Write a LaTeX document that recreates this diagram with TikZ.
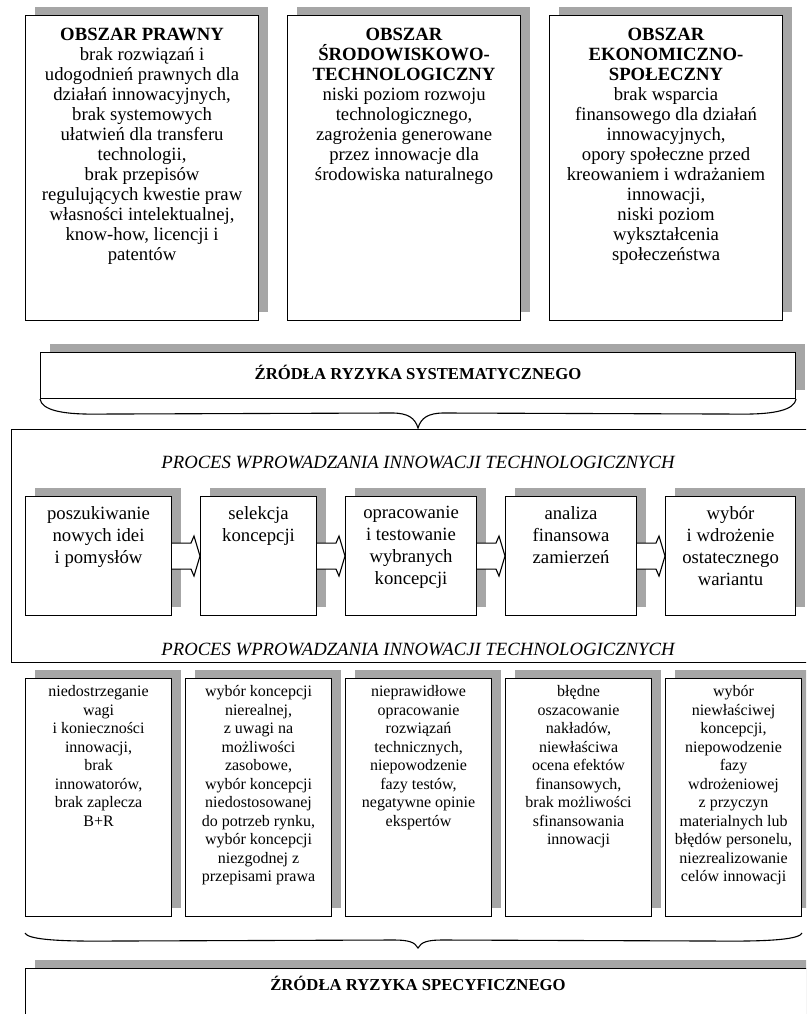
\documentclass[tikz,border=0pt]{standalone}
\usepackage{fontspec}
\setmainfont{Liberation Serif}
\usetikzlibrary{calc,shadows}

\tikzset{
  shbox/.style={draw=black, line width=1.1pt, fill=white, inner sep=0pt, anchor=north west,
    drop shadow={shadow xshift=9pt, shadow yshift=9pt, opacity=1, fill=black!35}},
  areatxt/.style={anchor=north, inner sep=0pt, align=center,
    font=\fontsize{18.7}{20}\selectfont, execute at begin node=\strut},
  steptxt/.style={areatxt, font=\fontsize{18.7}{22}\selectfont},
  risktxt/.style={areatxt, font=\fontsize{16}{18.5}\selectfont},
  headtxt/.style={anchor=base, inner sep=0pt, font=\bfseries\fontsize{16.7}{20}\selectfont},
  proctxt/.style={anchor=base, inner sep=0pt, font=\itshape\fontsize{18.7}{22}\selectfont},
}

\begin{document}
\begin{tikzpicture}[x=1pt,y=-1pt,line width=1.1pt]

  \path[use as bounding box, fill=white] (0,0) rectangle (806,1014);
  \clip (0,0) rectangle (806,1014);

  % obszary
  \foreach \x/\t [count=\i] in {%
    25/{\textbf{OBSZAR PRAWNY}\\brak rozwiązań i\\udogodnień prawnych dla\\działań innowacyjnych,\\brak systemowych\\ułatwień dla transferu\\technologii,\\brak przepisów\\regulujących kwestie praw\\własności intelektualnej,\\know-how, licencji i\\patentów},%
    287/{\textbf{OBSZAR}\\\textbf{ŚRODOWISKOWO-}\\\textbf{TECHNOLOGICZNY}\\niski poziom rozwoju\\technologicznego,\\zagrożenia generowane\\przez innowacje dla\\środowiska naturalnego},%
    549/{\textbf{OBSZAR}\\\textbf{EKONOMICZNO-}\\\textbf{SPOŁECZNY}\\brak wsparcia\\finansowego dla działań\\innowacyjnych,\\opory społeczne przed\\kreowaniem i wdrażaniem\\innowacji,\\niski poziom\\wykształcenia\\społeczeństwa}%
  } {
    \node[shbox, minimum width=233pt, minimum height=305pt] (a\i) at (\x,15) {};
    \node[areatxt] (at\i) at ($(a\i.north)+(0,13)$) {\t};
  }

  \node[shbox, minimum width=755pt, minimum height=46pt] (sys) at (40,352) {};
  \node[headtxt] (systxt) at (418,379) {ŹRÓDŁA RYZYKA SYSTEMATYCZNEGO};

  \coordinate (stip) at (418,428);
  \draw (sys.south west) .. controls +(2,11) and +(-30,0) .. ++(52,15)
    -- ($(stip)+(-26,-15)$) .. controls +(16,0) and +(-3,-10) .. (stip)
       .. controls +(3,-10) and +(-16,0) .. ++(26,-15)
    -- ($(sys.south east)+(-52,15)$) .. controls +(30,0) and +(-2,11) .. (sys.south east);

  % proces
  \node[draw, inner sep=0pt, anchor=north west, minimum width=797pt, minimum height=233pt] (proc) at (11,429) {};
  \node[proctxt] (ptop) at (418,468) {PROCES WPROWADZANIA INNOWACJI TECHNOLOGICZNYCH};
  \node[proctxt] (pbot) at (418,655) {PROCES WPROWADZANIA INNOWACJI TECHNOLOGICZNYCH};

  \foreach \x/\w/\t [count=\i] in {%
    25/146pt/{poszukiwanie\\nowych idei\\i pomysłów},%
    200/116pt/{selekcja\\koncepcji},%
    345/131pt/{opracowanie\\i testowanie\\wybranych\\koncepcji},%
    505/131pt/{analiza\\finansowa\\zamierzeń},%
    665/130pt/{wybór\\i wdrożenie\\ostatecznego\\wariantu}%
  } {
    \node[shbox, minimum width=\w, minimum height=119pt] (s\i) at (\x,496) {};
    \node[steptxt] (st\i) at ($(s\i.north)+(0,10)$) {\t};
  }

  \foreach \j in {2,...,5} {
    \pgfmathsetmacro{\k}{int(\j-1)}
    \filldraw[fill=white]
         ($(s\k.east)+(0,-13)$)
      -- ($(s\j.west)+(-9,-13)$) -- ($(s\j.west)+(-6,-20)$)
      -- (s\j.west)
      -- ($(s\j.west)+(-6,20)$) -- ($(s\j.west)+(-9,13)$)
      -- ($(s\k.east)+(0,13)$);
  }

  % ryzyko specyficzne
  \foreach \x/\w/\t [count=\i] in {%
    25/146pt/{niedostrzeganie\\wagi\\i konieczności\\innowacji,\\brak\\innowatorów,\\brak zaplecza\\B+R},%
    185/146pt/{wybór koncepcji\\nierealnej,\\z uwagi na\\możliwości\\zasobowe,\\wybór koncepcji\\niedostosowanej\\do potrzeb rynku,\\wybór koncepcji\\niezgodnej z\\przepisami prawa},%
    345/146pt/{nieprawidłowe\\opracowanie\\rozwiązań\\technicznych,\\niepowodzenie\\fazy testów,\\negatywne opinie\\ekspertów},%
    505/146pt/{błędne\\oszacowanie\\nakładów,\\niewłaściwa\\ocena efektów\\finansowych,\\brak możliwości\\sfinansowania\\innowacji},%
    665/136pt/{wybór\\niewłaściwej\\koncepcji,\\niepowodzenie\\fazy\\wdrożeniowej\\z przyczyn\\materialnych lub\\błędów personelu,\\niezrealizowanie\\celów innowacji}%
  } {
    \node[shbox, minimum width=\w, minimum height=238pt] (b\i) at (\x,678) {};
    \node[risktxt] (bt\i) at ($(b\i.north)+(0,7)$) {\t};
  }

  \coordinate (ctip) at (418,948);
  \coordinate (cl) at ($(b1.south west)+(0,16)$);
  \coordinate (cr) at ($(b5.south east)+(0,16)$);
  \draw (cl) .. controls +(3,6) and +(-40,0) .. ++(70,8)
    -- ($(ctip)+(-24,-8)$) .. controls +(14,0) and +(-3,-6) .. (ctip)
       .. controls +(3,-6) and +(-14,0) .. ++(24,-8)
    -- ($(cr)+(-70,8)$) .. controls +(40,0) and +(-3,6) .. (cr);

  \node[shbox, minimum width=785pt, minimum height=80pt] (spec) at (25,968) {};
  \node[headtxt] (spectxt) at (418,990) {ŹRÓDŁA RYZYKA SPECYFICZNEGO};

\end{tikzpicture}
\end{document}
